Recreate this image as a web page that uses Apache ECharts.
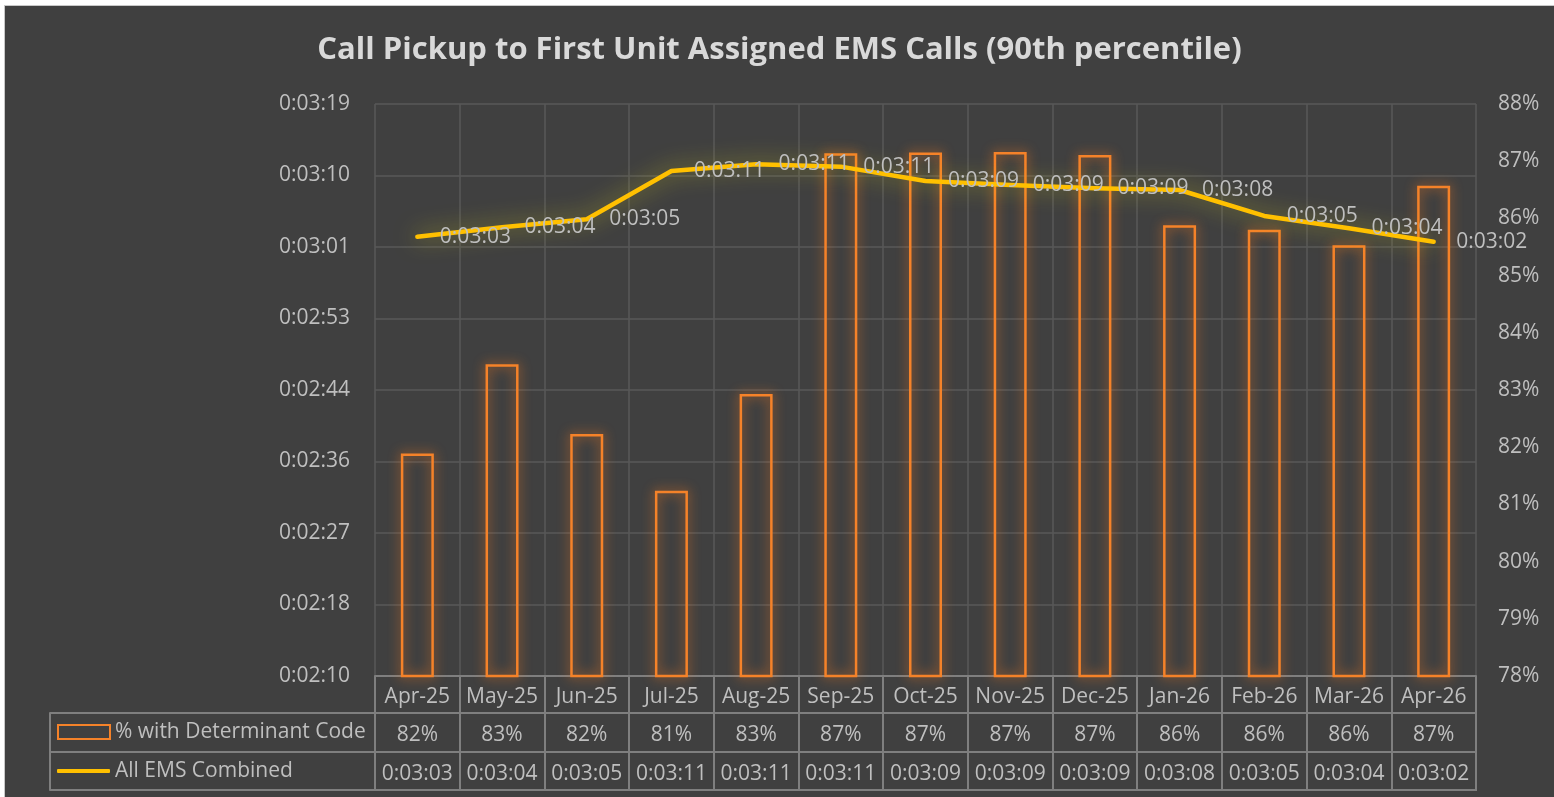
<!DOCTYPE html>
<html>
<head>
<meta charset="utf-8">
<script src="https://cdn.jsdelivr.net/npm/echarts@6/dist/echarts.min.js"></script>
<style>
  html, body { margin: 0; padding: 0; background: #ffffff; width: 1554px; height: 797px; overflow: hidden; }
  #chart { position: absolute; left: 4px; top: 5px; width: 1550px; height: 792px; border-left: 1px solid #c8c8c8; border-top: 1px solid #c8c8c8; box-sizing: border-box; background: #404040; }
</style>
</head>
<body>
<div id="chart"></div>
<script>
const categories = ['Apr-25','May-25','Jun-25','Jul-25','Aug-25','Sep-25','Oct-25','Nov-25','Dec-25','Jan-26','Feb-26','Mar-26','Apr-26'];
const pctValues = [81.89, 83.45, 82.23, 81.24, 82.93, 87.14, 87.15, 87.16, 87.11, 85.88, 85.80, 85.53, 86.57];
const timeValues = [182.69, 183.82, 184.79, 190.63, 191.44, 191.15, 189.42, 188.94, 188.54, 188.33, 185.19, 183.70, 182.08];
const leftTickLabels = ['0:02:10','0:02:18','0:02:27','0:02:36','0:02:44','0:02:53','0:03:01','0:03:10','0:03:19'];
const rightTickLabels = ['78%','79%','80%','81%','82%','83%','84%','85%','86%','87%','88%'];
const seriesNames = ['% with Determinant Code', 'All EMS Combined'];
const titleText = 'Call Pickup to First Unit Assigned EMS Calls (90th percentile)';

const LEFT_MIN = 129.6, LEFT_MAX = 198.72, LEFT_INT = 8.64;
const RIGHT_MIN = 78, RIGHT_MAX = 88, RIGHT_INT = 1;

function pad(n) { return (n < 10 ? '0' : '') + n; }
function fmtTime(s) {
  const r = Math.round(s);
  return '0:' + pad(Math.floor(r / 60)) + ':' + pad(r % 60);
}

const FONT = 'Open Sans';
const TXT = '#BFBFBF';
const TABLE_LINE = '#7F7F7F';
const GRID_LINE = '#595959';
const BAR_COLOR = '#F58229';
const LINE_COLOR = '#FFC000';

const chart = echarts.init(document.getElementById('chart'));
chart.setOption({
  backgroundColor: '#404040',
  animation: false,
  title: {
    text: titleText,
    left: 'center',
    top: 24,
    textStyle: { color: '#D9D9D9', fontFamily: FONT, fontWeight: 'bold', fontSize: 31 }
  },
  legend: [
    {
      left: 52, top: 715, padding: 0, orient: 'vertical', itemWidth: 52, itemHeight: 14,
      data: [{ name: seriesNames[0], icon: 'rect', itemStyle: { color: 'rgba(0,0,0,0)', borderColor: BAR_COLOR, borderWidth: 2, shadowBlur: 0 } }],
      textStyle: { color: TXT, fontFamily: FONT, fontSize: 21, lineHeight: 22 },
      selectedMode: false
    },
    {
      left: 52, top: 754, padding: 0, orient: 'vertical', itemWidth: 53, itemHeight: 4,
      data: [{ name: seriesNames[1], icon: 'roundRect', itemStyle: { color: LINE_COLOR, borderWidth: 0, shadowBlur: 0 } }],
      textStyle: { color: TXT, fontFamily: FONT, fontSize: 21, lineHeight: 22 },
      selectedMode: false
    }
  ],
  grid: [
    { left: 370, right: 78, top: 98, bottom: 121 },
    { left: 45, right: 78, top: 707, bottom: 7 }
  ],
  xAxis: [
    {
      type: 'category', gridIndex: 0, data: categories, boundaryGap: true,
      axisLine: { show: true, lineStyle: { color: TABLE_LINE, width: 2 } },
      axisTick: { show: true, length: 115, interval: 0, alignWithLabel: false, lineStyle: { color: TABLE_LINE, width: 2 } },
      splitLine: { show: true, interval: 0, lineStyle: { color: GRID_LINE, width: 1.5 } },
      axisLabel: {
        interval: 0, margin: 2, color: TXT, fontFamily: FONT, fontSize: 21, lineHeight: 38.3,
        verticalAlign: 'top',
        formatter: function (v, i) {
          return v + '\n' + Math.round(pctValues[i]) + '%\n' + fmtTime(timeValues[i]);
        }
      }
    },
    { type: 'value', gridIndex: 1, show: false, min: 0, max: 1 }
  ],
  yAxis: [
    {
      type: 'value', gridIndex: 0, min: LEFT_MIN, max: LEFT_MAX, interval: LEFT_INT, position: 'left',
      axisLine: { show: false }, axisTick: { show: false },
      splitLine: { show: true, lineStyle: { color: GRID_LINE, width: 1.5 } },
      axisLabel: {
        margin: 25, color: TXT, fontFamily: FONT, fontSize: 21,
        formatter: function (v) { return leftTickLabels[Math.round((v - LEFT_MIN) / LEFT_INT)]; }
      }
    },
    {
      type: 'value', gridIndex: 0, min: RIGHT_MIN, max: RIGHT_MAX, interval: RIGHT_INT, position: 'right',
      axisLine: { show: false }, axisTick: { show: false }, splitLine: { show: false },
      axisLabel: {
        margin: 22, color: TXT, fontFamily: FONT, fontSize: 21,
        formatter: function (v) { return rightTickLabels[Math.round((v - RIGHT_MIN) / RIGHT_INT)]; }
      }
    },
    {
      type: 'value', gridIndex: 1, min: 0, max: 2, interval: 1, inverse: true,
      axisLine: { show: true, lineStyle: { color: TABLE_LINE, width: 2 } },
      axisTick: { show: false }, axisLabel: { show: false },
      splitLine: { show: true, lineStyle: { color: TABLE_LINE, width: 2 } }
    }
  ],
  series: [
    {
      name: seriesNames[0], type: 'bar', xAxisIndex: 0, yAxisIndex: 1,
      data: pctValues, barWidth: 33,
      itemStyle: {
        color: 'rgba(0,0,0,0)', borderColor: BAR_COLOR, borderWidth: 2.5,
        shadowBlur: 12, shadowColor: 'rgba(245,120,30,0.95)'
      },
      emphasis: { disabled: true }
    },
    {
      name: seriesNames[1], type: 'line', xAxisIndex: 0, yAxisIndex: 0,
      data: timeValues, symbol: 'circle', symbolSize: 1, showSymbol: true, smooth: false,
      lineStyle: { color: LINE_COLOR, width: 4.5, cap: 'round', join: 'round', shadowBlur: 22, shadowColor: 'rgba(240,230,20,0.6)' },
      itemStyle: { color: 'rgba(0,0,0,0)', borderWidth: 0 },
      label: {
        show: true, position: 'right', distance: 22, offset: [0, 4],
        color: TXT, fontFamily: FONT, fontSize: 21,
        formatter: function (p) { return fmtTime(p.value); }
      },
      labelLayout: { hideOverlap: false },
      emphasis: { disabled: true },
      z: 5
    }
  ]
});
</script>
</body>
</html>
